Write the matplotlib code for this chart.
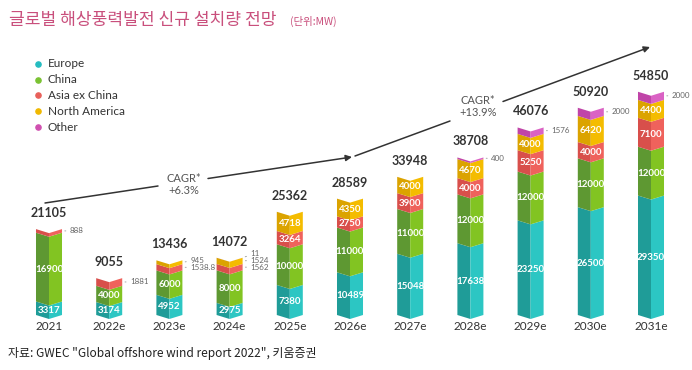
import matplotlib
matplotlib.use('Agg')
import matplotlib.pyplot as plt

plt.rcParams['font.family'] = ['Lato', 'Noto Sans CJK KR', 'DejaVu Sans']

# data (MW)
years = ['2021', '2022e', '2023e', '2024e', '2025e', '2026e', '2027e', '2028e', '2029e', '2030e', '2031e']
europe = [3317, 3174, 4952, 2975, 7380, 10489, 15048, 17638, 23250, 26500, 29350]
china = [16900, 4000, 6000, 8000, 10000, 11000, 11000, 12000, 12000, 12000, 12000]
asia = [888, 1881, 1538.8, 1562, 3264, 2750, 3900, 4000, 5250, 4000, 7100]
namerica = [0, 0, 945, 1524, 4718, 4350, 4000, 4670, 4000, 6420, 4400]
other = [0, 0, 0, 11, 0, 0, 0, 400, 1576, 2000, 2000]
totals = [21105, 9055, 13436, 14072, 25362, 28589, 33948, 38708, 46076, 50920, 54850]

series = [europe, china, asia, namerica, other]
names = ['Europe', 'China', 'Asia ex China', 'North America', 'Other']
dark = ['#1f9c98', '#5e9832', '#d84f4b', '#dba300', '#c044a8']
light = ['#2cc6c3', '#82c422', '#ef625c', '#f4bc00', '#da62c4']
dots = ['#25bcc0', '#7ac232', '#e8605a', '#f0b800', '#d050b0']

W, H = 692, 370
fig = plt.figure(figsize=(W / 100, H / 100), dpi=100)
ax = fig.add_axes([0, 0, 1, 1])
ax.axis('off')

x0, dx = 49, 60.2      # px of first bar centre, spacing
base, scale = 315, 4.07  # px baseline from top, px per 1000 MW
ax.set_xlim(-x0 / dx, (W - x0) / dx)
ax.set_ylim(-(H - base) / scale * 1000, base / scale * 1000)

w = 0.432
d = 4 / scale * 1000   # chevron depth
px_per_mw = scale / 1000

for i in range(len(years)):
    lo = 0
    out = []
    for k, s in enumerate(series):
        v = s[i]
        if v <= 0:
            continue
        hi = lo + v
        ax.fill([i - w / 2, i, i, i - w / 2], [lo, lo - d, hi - d, hi], color=dark[k], lw=0)
        ax.fill([i, i + w / 2, i + w / 2, i], [lo - d, lo, hi, hi - d], color=light[k], lw=0)
        if v >= 2500:
            ax.text(i, (lo + hi) / 2 - d / 2, f'{v:g}', ha='center', va='center',
                    color='white', fontsize=7, fontweight='bold')
        else:
            out.append((v, lo, hi))
        lo = hi
    # small values outside with leader lines, pushed apart
    prev = None
    for v, lo, hi in out:
        c = (lo + hi) / 2
        dy = 0
        cy = c * px_per_mw
        if prev is not None and cy < prev + 7:
            dy = prev + 7 - cy
        prev = cy + dy
        ax.annotate(f'{v:g}', xy=(i + w / 2, c), xytext=(8, dy), textcoords='offset pixels',
                    ha='left', va='center', fontsize=5.8, color='#666666',
                    arrowprops=dict(arrowstyle='-', color='#999999', lw=0.6, shrinkA=1, shrinkB=2))
    ax.annotate(f'{totals[i]}', xy=(i, totals[i]), xytext=(0, 16), textcoords='offset pixels',
                ha='center', va='center', fontsize=9, fontweight='bold', color='#333333')
    ax.annotate(years[i], xy=(i, 0), xytext=(0, -12), textcoords='offset pixels',
                ha='center', va='center', fontsize=8.5, color='#333333')


def fp(px, py):
    return (px / W, 1 - py / H)


# CAGR arrows
ax.annotate('', xy=fp(45, 203), xytext=fp(158, 186), xycoords='figure fraction',
            arrowprops=dict(arrowstyle='-', color='#333333', lw=1.1, shrinkA=0, shrinkB=0))
ax.annotate('', xy=fp(352, 157), xytext=fp(208, 178.5), xycoords='figure fraction',
            arrowprops=dict(arrowstyle='-|>', color='#333333', lw=1.1, mutation_scale=9, shrinkA=0, shrinkB=0))
ax.annotate('', xy=fp(355, 156), xytext=fp(450, 121), xycoords='figure fraction',
            arrowprops=dict(arrowstyle='-', color='#333333', lw=1.1, shrinkA=0, shrinkB=0))
ax.annotate('', xy=fp(650, 47), xytext=fp(503, 101.5), xycoords='figure fraction',
            arrowprops=dict(arrowstyle='-|>', color='#333333', lw=1.1, mutation_scale=9, shrinkA=0, shrinkB=0))
fig.text(*fp(184, 178), 'CAGR*', ha='center', va='center', fontsize=8, color='#555555')
fig.text(*fp(184, 190), '+6.3%', ha='center', va='center', fontsize=8, color='#555555')
fig.text(*fp(478, 101), 'CAGR*', ha='center', va='center', fontsize=8, color='#555555')
fig.text(*fp(478, 113), '+13.9%', ha='center', va='center', fontsize=8, color='#555555')

# legend
for k, n in enumerate(names):
    y = 63.5 + 16 * k
    ax.scatter([38 / W], [1 - y / H], s=14, color=dots[k], transform=fig.transFigure, clip_on=False)
    fig.text(*fp(48, y), n, ha='left', va='center', fontsize=8.5, color='#333333')

# title and source
fig.text(*fp(9, 20), '글로벌 해상풍력발전 신규 설치량 전망', ha='left', va='center',
         fontsize=12.3, color='#c94f7c', family=['Noto Sans CJK KR', 'DejaVu Sans'])
fig.text(*fp(290, 21), '(단위:MW)', ha='left', va='center',
         fontsize=7.5, color='#c94f7c', family=['Noto Sans CJK KR', 'DejaVu Sans'])
fig.text(*fp(8, 353), '자료: GWEC "Global offshore wind report 2022", 키움증권', ha='left', va='center',
         fontsize=8.6, color='#222222', family=['Noto Sans CJK KR', 'DejaVu Sans'])

fig.savefig('out.png', dpi=100)
